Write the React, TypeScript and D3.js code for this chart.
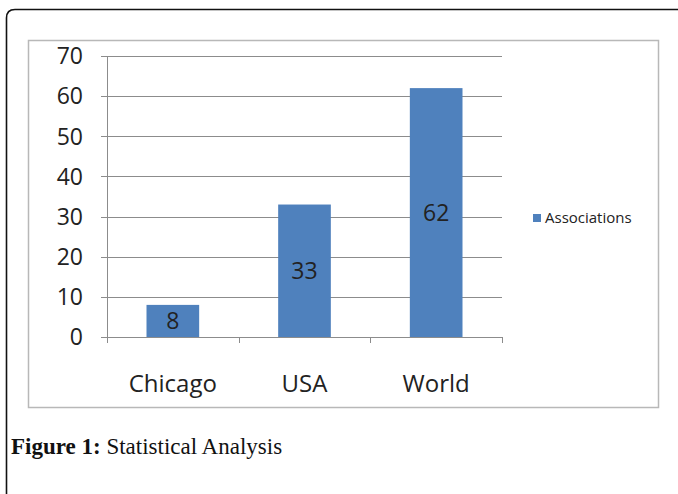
import React from "react";
import * as d3 from "d3";

const categories = ["Chicago", "USA", "World"];
const values = [8, 33, 62];
const yTicks = [0, 10, 20, 30, 40, 50, 60, 70];
const seriesName = "Associations";

export default function App() {
  const W = 678, H = 494;
  const left = 107, right = 502, top = 56, bottom = 337;
  const x = d3.scaleBand<string>().domain(categories).range([left, right]).paddingInner(0).paddingOuter(0);
  const y = d3.scaleLinear().domain([0, 70]).range([bottom, top]);
  const bw = x.bandwidth() * 0.4;
  const blue = "#4f81bd";
  const font = "'Open Sans', sans-serif";
  const edges = [...categories.map((c) => x(c)!), right];
  return (
    <div style={{ position: "absolute", left: 0, top: 0 }}>
      <svg width={W} height={H} style={{ display: "block" }}>
        <rect width={W} height={H} fill="#fff" />
        <path d={`M6.5,${H + 5} V18 Q6.5,9.5 15,9.5 H${W + 5}`} fill="none" stroke="#111" strokeWidth={1.6} />
        <rect x={28.5} y={40.5} width={630} height={367} fill="#fff" stroke="#b8b8b8" strokeWidth={1.5} />
        {yTicks.map((t) => (
          <g key={t}>
            <line x1={left - 6} x2={right} y1={Math.round(y(t)) + 0.5} y2={Math.round(y(t)) + 0.5} stroke="#8c8c8c" strokeWidth={1} />
            <text x={83} y={y(t)} dy="0.36em" textAnchor="end" fontFamily={font} fontSize={23} fill="#222">{t}</text>
          </g>
        ))}
        <line x1={left + 0.5} x2={left + 0.5} y1={top} y2={bottom} stroke="#8c8c8c" />
        {edges.map((e, i) => (
          <line key={i} x1={Math.round(e) + 0.5} x2={Math.round(e) + 0.5} y1={bottom} y2={bottom + 6} stroke="#8c8c8c" />
        ))}
        {categories.map((c, i) => {
          const cx = x(c)! + x.bandwidth() / 2;
          return (
            <g key={c}>
              <rect x={cx - bw / 2} y={y(values[i])} width={bw} height={y(0) - y(values[i])} fill={blue} />
              <text x={cx} y={(y(values[i]) + y(0)) / 2} dy="0.36em" textAnchor="middle" fontFamily={font} fontSize={23} fill="#222">{values[i]}</text>
              <text x={cx} y={383} dy="0.36em" textAnchor="middle" fontFamily={font} fontSize={24} fill="#222">{c}</text>
            </g>
          );
        })}
        <rect x={533} y={214} width={8} height={8} fill={blue} />
        <text x={545} y={218} dy="0.36em" fontFamily={font} fontSize={15} fill="#222">{seriesName}</text>
        <text x={11} y={454} fontFamily="'Liberation Serif', 'DejaVu Serif', serif" fontSize={23} fill="#111">
          <tspan fontWeight="bold">Figure 1:</tspan>
          <tspan> Statistical Analysis</tspan>
        </text>
      </svg>
    </div>
  );
}
